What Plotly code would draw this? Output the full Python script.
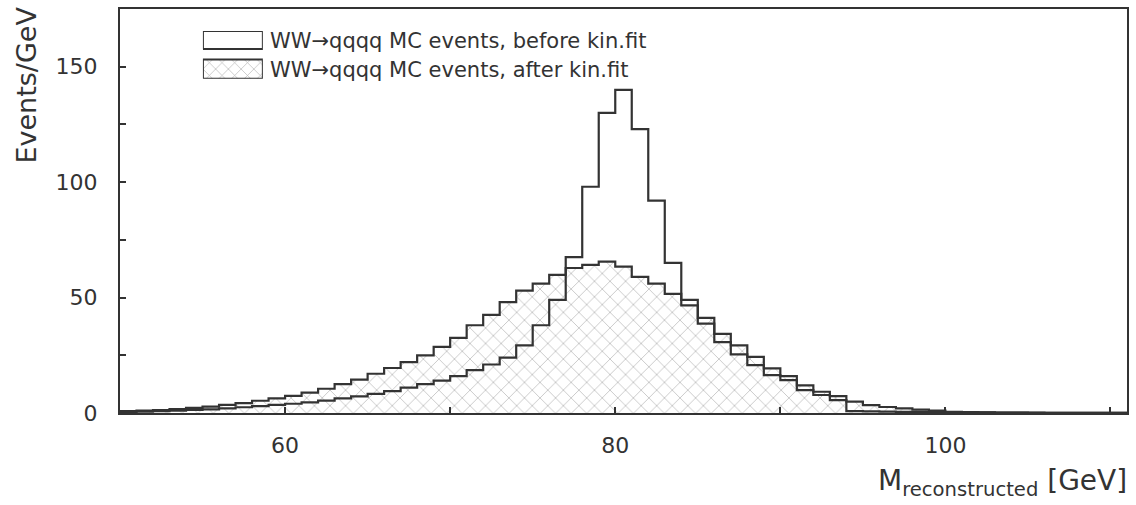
import plotly.graph_objects as go

# bin edges (1 GeV bins)
bin_edges = list(range(50, 112))  # 50 ... 111

before_fit = [0.5, 0.6, 0.8, 1.0, 1.3, 1.6, 2.0, 2.5, 3.0, 3.5,
              4.0, 4.6, 5.4, 6.3, 7.2, 8.3, 9.5, 11.0, 12.5, 14.0,
              16.0, 18.6, 21.0, 24.0, 29.3, 38.0, 49.0, 67.5, 98.0, 130.0,
              140.0, 123.0, 92.0, 65.0, 49.0, 38.7, 30.7, 25.4, 20.7, 16.4,
              14.2, 9.9, 7.8, 5.6, 0.8, 0.7, 0.6, 0.5, 0.5, 0.4,
              0.4, 0.3, 0.3, 0.2, 0.2, 0.15, 0.1, 0.1, 0.1, 0.05, 0.05]

after_fit = [0.8, 1.0, 1.3, 1.7, 2.2, 2.8, 3.5, 4.3, 5.3, 6.3,
             7.4, 8.8, 10.5, 12.5, 14.5, 17.0, 19.5, 22.0, 25.0, 28.6,
             32.5, 38.0, 42.5, 48.0, 53.0, 56.0, 59.8, 62.8, 64.2, 65.6,
             63.4, 59.0, 56.0, 51.6, 46.6, 41.2, 34.3, 29.3, 24.3, 19.3,
             16.0, 12.0, 9.2, 7.3, 4.9, 3.4, 2.6, 2.0, 1.5, 1.0,
             0.5, 0.4, 0.3, 0.2, 0.2, 0.1, 0.1, 0.1, 0.05, 0.05, 0.05]

legend_labels = ["WW\u2192qqqq MC events, before kin.fit",
                 "WW\u2192qqqq MC events, after kin.fit"]

x_ticks = [60, 80, 100]
y_ticks = [0, 50, 100, 150]

LINE = "#333333"
HATCH = "#666666"
FONT = "DejaVu Sans, Liberation Sans, Arial, sans-serif"


def steps(vals):
    return bin_edges, list(vals) + [vals[-1]]


fig = go.Figure()

xs, ys = steps(after_fit)
fig.add_trace(go.Scatter(
    x=xs, y=ys, mode="lines", line=dict(shape="hv", color=LINE, width=2.2),
    fill="tozeroy", fillcolor="white",
    fillpattern=dict(shape="x", fgcolor=HATCH, bgcolor="white", size=11, solidity=0.12),
    showlegend=False, hoverinfo="skip"))

xs, ys = steps(before_fit)
fig.add_trace(go.Scatter(
    x=xs, y=ys, mode="lines", line=dict(shape="hv", color=LINE, width=2.2),
    showlegend=False, hoverinfo="skip"))

# legend swatches on a helper axis
fig.add_trace(go.Scatter(
    x=[0, 1, 1, 0, 0], y=[0.62, 0.62, 1, 1, 0.62], mode="lines", fill="toself",
    fillcolor="white", line=dict(color=LINE, width=2),
    xaxis="x2", yaxis="y2", showlegend=False, hoverinfo="skip"))
fig.add_trace(go.Scatter(
    x=[0, 1, 1, 0, 0], y=[0, 0, 0.4, 0.4, 0], mode="lines", fill="toself",
    fillcolor="white",
    fillpattern=dict(shape="x", fgcolor=HATCH, bgcolor="white", size=9, solidity=0.14),
    line=dict(color=LINE, width=2),
    xaxis="x2", yaxis="y2", showlegend=False, hoverinfo="skip"))

W, H = 1136, 505
L, R, T, B = 120, 8, 7, 92
pw, ph = W - L - R, H - T - B


def px(xpix):
    return (xpix - L) / pw


def py(ypix):
    return 1 - (ypix - T) / ph


fig.update_layout(
    width=W, height=H,
    margin=dict(l=L, r=R, t=T, b=B),
    paper_bgcolor="white", plot_bgcolor="white",
    font=dict(family=FONT, color=LINE, size=22),
    xaxis=dict(range=[50, 111], tickvals=x_ticks, ticks="inside", ticklen=6,
               tickcolor=LINE, tickwidth=1.5,
               minor=dict(dtick=10, tick0=50, ticks="inside", ticklen=6, tickcolor=LINE),
               showline=True, linecolor=LINE, linewidth=2, mirror=True,
               showgrid=False, zeroline=False, ticklabelstandoff=12,
               tickfont=dict(size=22)),
    yaxis=dict(range=[0, 175], tickvals=y_ticks, ticks="inside", ticklen=6,
               tickcolor=LINE, tickwidth=1.5,
               minor=dict(dtick=25, tick0=0, ticks="inside", ticklen=6, tickcolor=LINE),
               showline=True, linecolor=LINE, linewidth=2, mirror=True,
               showgrid=False, zeroline=False, ticklabelstandoff=16,
               tickfont=dict(size=22)),
    xaxis2=dict(domain=[px(203), px(263)], range=[0, 1], visible=False, anchor="y2"),
    yaxis2=dict(domain=[py(77), py(29)], range=[0, 1], visible=False, anchor="x2"),
)

fig.add_annotation(x=px(268), y=py(39), xref="paper", yref="paper",
                   text=legend_labels[0], showarrow=False, xanchor="left", yanchor="middle",
                   font=dict(size=21))
fig.add_annotation(x=px(268), y=py(68), xref="paper", yref="paper",
                   text=legend_labels[1], showarrow=False, xanchor="left", yanchor="middle",
                   font=dict(size=21))

fig.add_annotation(x=px(26), y=py(3), xref="paper", yref="paper",
                   text="Events/GeV", showarrow=False, textangle=-90,
                   xanchor="center", yanchor="top", font=dict(size=27))
fig.add_annotation(x=px(1130), y=py(503), xref="paper", yref="paper",
                   text="M<sub>reconstructed</sub> [GeV]", showarrow=False,
                   xanchor="right", yanchor="bottom", font=dict(size=28))

fig.write_html("out.html")
